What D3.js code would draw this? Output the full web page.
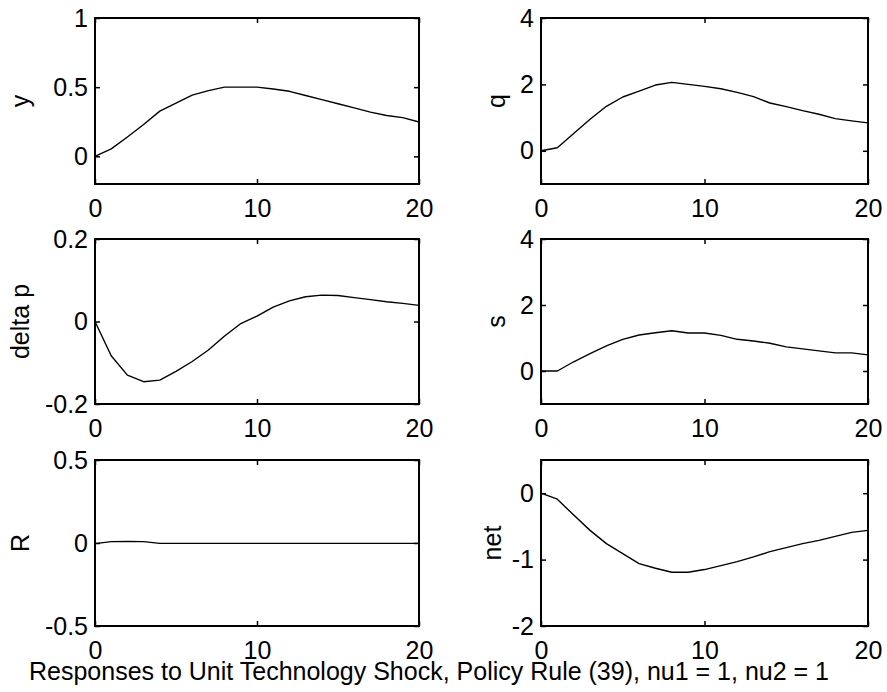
<!DOCTYPE html>
<html><head><meta charset="utf-8">
<script src="https://cdn.jsdelivr.net/npm/d3@7"></script>
<style>
html,body{margin:0;padding:0;background:#fff;}
text{font-family:"Liberation Sans",Arial,sans-serif;}
</style></head>
<body>
<svg id="chart" width="887" height="692"></svg>
<script>
const steps = d3.range(0, 21);
const xTicks = [0, 10, 20];

const yVals = [0, 0.054, 0.14, 0.23, 0.327, 0.385, 0.443, 0.475, 0.5, 0.5, 0.5, 0.487, 0.47, 0.44, 0.41, 0.38, 0.35, 0.32, 0.295, 0.28, 0.248];
const qVals = [0, 0.09, 0.52, 0.95, 1.34, 1.62, 1.8, 1.98, 2.06, 2.0, 1.94, 1.87, 1.76, 1.63, 1.44, 1.33, 1.21, 1.1, 0.97, 0.9, 0.84];
const dpVals = [0, -0.083, -0.13, -0.146, -0.142, -0.121, -0.097, -0.069, -0.035, -0.005, 0.013, 0.035, 0.05, 0.06, 0.064, 0.063, 0.058, 0.053, 0.048, 0.044, 0.039];
const sVals = [0, 0, 0.28, 0.53, 0.76, 0.96, 1.09, 1.16, 1.22, 1.15, 1.15, 1.08, 0.96, 0.91, 0.84, 0.73, 0.67, 0.61, 0.55, 0.55, 0.49];
const rVals = [-0.004, 0.008, 0.009, 0.008, -0.002, -0.002, -0.002, -0.002, -0.002, -0.002, -0.002, -0.002, -0.002, -0.002, -0.002, -0.002, -0.002, -0.002, -0.002, -0.002, -0.002];
const netVals = [0, -0.09, -0.33, -0.56, -0.76, -0.91, -1.06, -1.13, -1.19, -1.19, -1.15, -1.09, -1.03, -0.96, -0.88, -0.82, -0.76, -0.71, -0.65, -0.59, -0.56];

const labels = ["y", "q", "delta p", "s", "R", "net"];
const yDomains = [[-0.2, 1], [-1, 4], [-0.2, 0.2], [-1, 4], [-0.5, 0.5], [-2, 0.5]];
const yTickValues = [[0, 0.5, 1], [0, 2, 4], [-0.2, 0, 0.2], [0, 2, 4], [-0.5, 0, 0.5], [-2, -1, 0]];
const yTickLabels = [["0", "0.5", "1"], ["0", "2", "4"], ["-0.2", "0", "0.2"], ["0", "2", "4"], ["-0.5", "0", "0.5"], ["-2", "-1", "0"]];
const series = [yVals, qVals, dpVals, sVals, rVals, netVals];
const title = "Responses to Unit Technology Shock, Policy Rule (39), nu1 = 1, nu2 = 1";

const colX = [[95, 419], [541, 868]];
const rowY = [[18, 184], [239, 404], [460, 626]];
const ylabX = [[29, 505], [29, 505], [29, 501]];
const FS = 25;

const svg = d3.select("#chart");

series.forEach((vals, i) => {
  const row = Math.floor(i / 2), col = i % 2;
  const [x0, x1] = colX[col];
  const [y0, y1] = rowY[row];
  const x = d3.scaleLinear().domain([0, 20]).range([x0, x1]);
  const y = d3.scaleLinear().domain(yDomains[i]).range([y1, y0]);
  const g = svg.append("g");
  const fmtY = v => yTickLabels[i][yTickValues[i].indexOf(v)];

  const gb = g.append("g").attr("transform", `translate(0,${y1})`)
    .call(d3.axisBottom(x).tickValues(xTicks).tickSize(-5).tickSizeOuter(0).tickPadding(15.5).tickFormat(d3.format("d")));
  const gt = g.append("g").attr("transform", `translate(0,${y0})`)
    .call(d3.axisTop(x).tickValues(xTicks).tickSize(-5).tickSizeOuter(0).tickFormat(""));
  const gl = g.append("g").attr("transform", `translate(${x0},0)`)
    .call(d3.axisLeft(y).tickValues(yTickValues[i]).tickSize(-5).tickSizeOuter(0).tickPadding(7).tickFormat(fmtY));
  const gr = g.append("g").attr("transform", `translate(${x1},0)`)
    .call(d3.axisRight(y).tickValues(yTickValues[i]).tickSize(-5).tickSizeOuter(0).tickFormat(""));

  [gb, gt, gl, gr].forEach(a => {
    a.select(".domain").remove();
    a.selectAll(".tick line").attr("stroke", "#000").attr("stroke-width", 1.5);
    a.selectAll(".tick text").attr("fill", "#000").style("font-size", FS + "px")
      .style("font-family", '"Liberation Sans", Arial, sans-serif');
  });

  g.append("rect").attr("x", x0).attr("y", y0).attr("width", x1 - x0).attr("height", y1 - y0)
    .attr("fill", "none").attr("stroke", "#000").attr("stroke-width", 2);

  const line = d3.line().x((d, k) => x(steps[k])).y(d => y(d));
  g.append("path").datum(vals).attr("d", line).attr("fill", "none")
    .attr("stroke", "#000").attr("stroke-width", 1.4).attr("stroke-linejoin", "round");

  const lx = ylabX[row][col], ly = (y0 + y1) / 2;
  g.append("text").attr("transform", `translate(${lx},${ly}) rotate(-90)`)
    .attr("text-anchor", "middle").style("font-size", FS + "px").attr("fill", "#000")
    .text(labels[i]);
});

svg.append("text").attr("x", 429).attr("y", 680).attr("text-anchor", "middle")
  .style("font-size", FS + "px").attr("fill", "#000").text(title);
</script>
</body></html>
